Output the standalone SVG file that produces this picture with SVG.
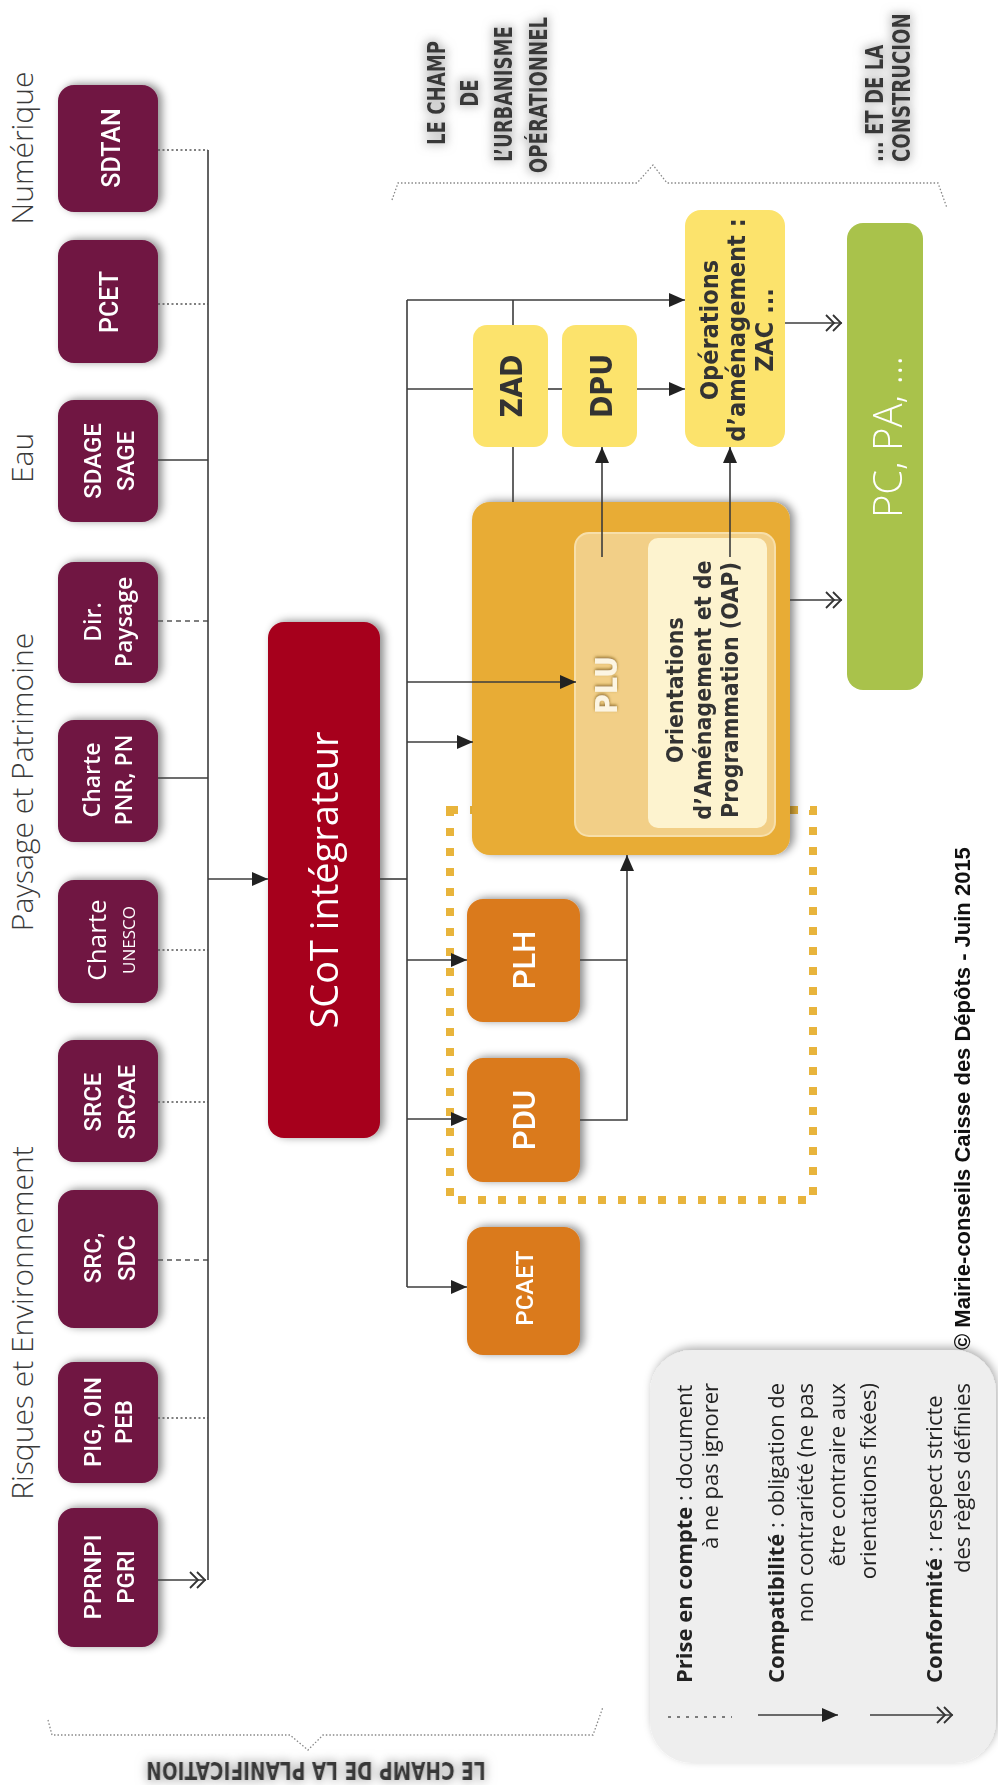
<svg xmlns="http://www.w3.org/2000/svg" width="998" height="1785" viewBox="0 0 998 1785">
<defs>
<style>
.cat{font-family:"Open Sans","DejaVu Sans",sans-serif;font-weight:300;font-size:30px;fill:#3a3a3a;text-anchor:middle}
.mar{fill:#701542}
.lbl{font-family:Roboto,"Open Sans",sans-serif;font-weight:500;fill:#fff;text-anchor:middle}
.lblo{font-family:"Open Sans",sans-serif;font-weight:600;font-size:23px;fill:#fff;text-anchor:middle}
.cond{font-family:"DejaVu Sans Condensed","DejaVu Sans",sans-serif;font-stretch:condensed;font-weight:bold;fill:#333;text-anchor:middle}
.hdr{font-family:"DejaVu Sans Condensed","DejaVu Sans",sans-serif;font-stretch:condensed;font-weight:bold;font-size:24px;fill:#383838}
.ln{fill:none;stroke:#3c3c3c;stroke-width:1.6}
.dot{fill:none;stroke:#555;stroke-width:1.6;stroke-dasharray:2 2.5}
.dash{fill:none;stroke:#555;stroke-width:1.6;stroke-dasharray:5 4}
.brace{fill:none;stroke:#888;stroke-width:1.3;stroke-dasharray:1.5 2}
.leg{font-family:"Open Sans","DejaVu Sans",sans-serif;font-size:22px;fill:#222}
</style>
<filter id="sh" x="-30%" y="-30%" width="160%" height="160%">
<feDropShadow dx="4" dy="-1" stdDeviation="4" flood-color="#000" flood-opacity="0.45"/>
</filter>
<filter id="shl" x="-30%" y="-30%" width="160%" height="160%">
<feDropShadow dx="2" dy="-3" stdDeviation="4" flood-color="#000" flood-opacity="0.3"/>
</filter>
<filter id="glow" x="-20%" y="-40%" width="140%" height="180%">
<feMorphology in="SourceAlpha" operator="dilate" radius="2" result="d"/>
<feGaussianBlur in="d" stdDeviation="5" result="b"/>
<feFlood flood-color="#999" flood-opacity="0.55"/>
<feComposite in2="b" operator="in" result="g"/>
<feMerge><feMergeNode in="g"/><feMergeNode in="SourceGraphic"/></feMerge>
</filter>
<filter id="tsh" x="-30%" y="-30%" width="160%" height="160%">
<feDropShadow dx="1.5" dy="0" stdDeviation="1.5" flood-color="#6b4a10" flood-opacity="0.7"/>
</filter>
<marker id="arr" viewBox="0 0 16 14" refX="16" refY="7" markerWidth="16" markerHeight="14" markerUnits="userSpaceOnUse" orient="auto">
<path d="M0,0 L16,7 L0,14 z" fill="#222"/>
</marker>
<marker id="dbl" viewBox="0 0 20 20" refX="19" refY="10" markerWidth="20" markerHeight="20" markerUnits="userSpaceOnUse" orient="auto">
<path d="M3,2 L11,10 L3,18 M10,2 L18,10 L10,18" fill="none" stroke="#333" stroke-width="1.8"/>
</marker>
</defs>
<rect width="998" height="1785" fill="#fff"/>

<!-- category labels -->
<g id="categories">
<text class="cat" transform="translate(33,148) rotate(-90)">Numérique</text>
<text class="cat" transform="translate(33,458) rotate(-90)">Eau</text>
<text class="cat" transform="translate(33,782) rotate(-90)">Paysage et Patrimoine</text>
<text class="cat" transform="translate(33,1323) rotate(-90)">Risques et Environnement</text>
</g>

<!-- headers & braces -->
<g id="headers" filter="url(#glow)">
<text class="hdr" text-anchor="middle" transform="translate(445,93) rotate(-90) scale(0.84,1)">LE CHAMP</text>
<text class="hdr" text-anchor="middle" transform="translate(478,93) rotate(-90) scale(0.84,1)">DE</text>
<text class="hdr" text-anchor="middle" transform="translate(512,94) rotate(-90) scale(0.84,1)">L’URBANISME</text>
<text class="hdr" text-anchor="middle" transform="translate(547,95) rotate(-90) scale(0.84,1)">OPÉRATIONNEL</text>
<text class="hdr" transform="translate(883,162) rotate(-90) scale(0.84,1)">... ET DE LA</text>
<text class="hdr" transform="translate(910,162) rotate(-90) scale(0.84,1)">CONSTRUCION</text>
<text class="hdr" text-anchor="middle" transform="translate(316,1762) rotate(180) scale(0.86,1)">LE CHAMP DE LA PLANIFICATION</text>
</g>
<g id="braces">
<path class="brace" d="M392,200 L398,183 H637 L653,165 L667,183 H938 L947,208"/>
<path class="brace" d="M48,1720 L52,1735 H290 L308,1750 L323,1735 H593 L603,1707"/>
</g>

<!-- source nodes -->
<g id="n-sdtan" filter="url(#sh)"><rect class="mar" x="58" y="85" width="100" height="127" rx="16"/><text class="lbl" style="font-size:25px" transform="translate(120,148) rotate(-90)">SDTAN</text></g>
<g id="n-pcet" filter="url(#sh)"><rect class="mar" x="58" y="240" width="100" height="123" rx="16"/><text class="lbl" style="font-size:25px" transform="translate(118,302) rotate(-90)">PCET</text></g>
<g id="n-sdage" filter="url(#sh)"><rect class="mar" x="58" y="400" width="100" height="122" rx="16"/><text class="lbl" style="font-size:24px" transform="translate(101,461) rotate(-90)"><tspan x="0" y="0">SDAGE</tspan><tspan x="0" dy="33">SAGE</tspan></text></g>
<g id="n-dirpaysage" filter="url(#sh)"><rect class="mar" x="58" y="562" width="100" height="121" rx="16"/><text class="lblo" transform="translate(101,622) rotate(-90)"><tspan x="0" y="0">Dir.</tspan><tspan x="0" dy="31">Paysage</tspan></text></g>
<g id="n-chartepnr" filter="url(#sh)"><rect class="mar" x="58" y="720" width="100" height="122" rx="16"/><text class="lblo" transform="translate(100,780) rotate(-90)"><tspan x="0" y="0">Charte</tspan><tspan x="0" dy="32">PNR, PN</tspan></text></g>
<g id="n-charteunesco" filter="url(#sh)"><rect class="mar" x="58" y="880" width="100" height="123" rx="16"/><text class="lblo" transform="translate(106,940) rotate(-90)"><tspan x="0" y="0" font-size="26" font-weight="400">Charte</tspan><tspan x="0" dy="29" font-size="17" font-weight="400">UNESCO</tspan></text></g>
<g id="n-srce" filter="url(#sh)"><rect class="mar" x="58" y="1040" width="100" height="122" rx="16"/><text class="lbl" style="font-size:24px" transform="translate(101,1102) rotate(-90)"><tspan x="0" y="0">SRCE</tspan><tspan x="0" dy="34">SRCAE</tspan></text></g>
<g id="n-src" filter="url(#sh)"><rect class="mar" x="58" y="1190" width="100" height="138" rx="16"/><text class="lbl" style="font-size:24px" transform="translate(101,1258) rotate(-90)"><tspan x="0" y="0">SRC,</tspan><tspan x="0" dy="34">SDC</tspan></text></g>
<g id="n-pig" filter="url(#sh)"><rect class="mar" x="58" y="1362" width="100" height="121" rx="16"/><text class="lbl" style="font-size:24px" transform="translate(101,1422) rotate(-90)"><tspan x="0" y="0">PIG, OIN</tspan><tspan x="0" dy="31">PEB</tspan></text></g>
<g id="n-pprnpi" filter="url(#sh)"><rect class="mar" x="58" y="1508" width="100" height="139" rx="16"/><text class="lbl" style="font-size:24px" transform="translate(101,1577) rotate(-90)"><tspan x="0" y="0">PPRNPI</tspan><tspan x="0" dy="33">PGRI</tspan></text></g>

<!-- SCoT -->
<g id="n-scot" filter="url(#sh)"><rect x="268" y="622" width="112" height="516" rx="16" fill="#A6001F"/><text transform="translate(338,880) rotate(-90)" font-family="Open Sans, sans-serif" font-size="38" fill="#fff" text-anchor="middle">SCoT intégrateur</text></g>

<!-- yellow dotted frame -->
<rect id="frame" x="450" y="810" width="363" height="390" fill="none" stroke="#E8B43C" stroke-width="8" stroke-dasharray="8 12"/>

<!-- PLU -->
<g id="n-plu">
<rect x="472" y="502" width="318" height="353" rx="18" fill="#E8AC35" filter="url(#sh)"/>
<rect x="575" y="533" width="200" height="303" rx="14" fill="#F2CF87" stroke="#F7DFAA" stroke-width="2"/>
<text transform="translate(617,685) rotate(-90)" font-family="DejaVu Sans Condensed, DejaVu Sans, sans-serif" font-stretch="condensed" font-weight="bold" font-size="30" fill="#FCF5E3" text-anchor="middle" filter="url(#tsh)">PLU</text>
</g>
<g id="n-oap">
<rect x="648" y="538" width="119" height="290" rx="10" fill="#FDF3CF"/>
<text class="cond" font-size="23" transform="translate(683,690) rotate(-90)"><tspan x="0" y="0">Orientations</tspan><tspan x="0" dy="28">d’Aménagement et de</tspan><tspan x="0" dy="27">Programmation (OAP)</tspan></text>
</g>

<!-- yellow nodes -->
<g id="n-zad"><rect x="473" y="325" width="75" height="122" rx="14" fill="#FCE36C"/><text class="cond" font-size="30" transform="translate(522,386) rotate(-90)">ZAD</text></g>
<g id="n-dpu"><rect x="562" y="325" width="75" height="122" rx="14" fill="#FCE36C"/><text class="cond" font-size="30" transform="translate(612,386) rotate(-90)">DPU</text></g>
<g id="n-ops"><rect x="685" y="210" width="100" height="237" rx="16" fill="#FCE36C"/><text class="cond" font-size="25" transform="translate(718,330) rotate(-90)"><tspan x="0" y="0">Opérations</tspan><tspan x="0" dy="27">d’aménagement :</tspan><tspan x="0" dy="28">ZAC ...</tspan></text></g>

<!-- green -->
<g id="n-pc"><rect x="847" y="223" width="76" height="467" rx="16" fill="#A9C24B"/><text transform="translate(902,437) rotate(-90)" font-family="Open Sans, sans-serif" font-weight="300" font-size="40" fill="#fff" text-anchor="middle">PC, PA, ...</text></g>

<!-- orange -->
<g id="n-plh" filter="url(#sh)"><rect x="467" y="899" width="113" height="123" rx="16" fill="#DA7A1E"/><text class="lbl" style="font-size:31px" transform="translate(535,960) rotate(-90)">PLH</text></g>
<g id="n-pdu" filter="url(#sh)"><rect x="467" y="1058" width="113" height="124" rx="16" fill="#DA7A1E"/><text class="lbl" style="font-size:31px" transform="translate(535,1120) rotate(-90)">PDU</text></g>
<g id="n-pcaet" filter="url(#sh)"><rect x="467" y="1227" width="113" height="128" rx="16" fill="#DA7A1E"/><text class="lbl" style="font-size:24px" transform="translate(533,1288) rotate(-90)">PCAET</text></g>

<!-- connectors -->
<g id="connectors">
<path class="dot" d="M158,150 H208"/>
<path class="dot" d="M158,304 H208"/>
<path class="ln" d="M158,460 H208"/>
<path class="dash" d="M158,621 H208"/>
<path class="ln" d="M158,778 H208"/>
<path class="dot" d="M158,950 H208"/>
<path class="dot" d="M158,1102 H208"/>
<path class="dash" d="M158,1260 H208"/>
<path class="dot" d="M158,1418 H208"/>
<path class="ln" d="M158,1580 H206" marker-end="url(#dbl)"/>
<path class="ln" d="M208,150 V1580"/>
<path class="ln" d="M208,879 H268" marker-end="url(#arr)"/>
<path class="ln" d="M380,879 H407"/>
<path class="ln" d="M407,300 V1287"/>
<path class="ln" d="M407,300 H685" marker-end="url(#arr)"/>
<path class="ln" d="M513,300 V325"/>
<path class="ln" d="M407,389 H473"/>
<path class="ln" d="M548,389 H562"/>
<path class="ln" d="M637,389 H685" marker-end="url(#arr)"/>
<path class="ln" d="M513,447 V502"/>
<path class="ln" d="M602,557 V447" marker-end="url(#arr)"/>
<path class="ln" d="M730,557 V447" marker-end="url(#arr)"/>
<path class="ln" d="M407,682 H576" marker-end="url(#arr)"/>
<path class="ln" d="M407,742 H473" marker-end="url(#arr)"/>
<path class="ln" d="M407,960 H467" marker-end="url(#arr)"/>
<path class="ln" d="M407,1119 H467" marker-end="url(#arr)"/>
<path class="ln" d="M407,1287 H467" marker-end="url(#arr)"/>
<path class="ln" d="M580,960 H627"/>
<path class="ln" d="M580,1120 H627 V855" marker-end="url(#arr)"/>
<path class="ln" d="M785,323 H842" marker-end="url(#dbl)"/>
<path class="ln" d="M790,600 H842" marker-end="url(#dbl)"/>
</g>

<!-- legend -->
<g id="legend">
<rect x="650" y="1350" width="346" height="413" rx="42" fill="#EEEEEE" filter="url(#shl)"/>
<path d="M668,1717 H732" fill="none" stroke="#555" stroke-width="1.6" stroke-dasharray="3 6"/>
<path class="ln" d="M758,1715 H838" marker-end="url(#arr)"/>
<path class="ln" d="M870,1715 H953" marker-end="url(#dbl)"/>
<text class="leg" transform="translate(692,1683) rotate(-90)"><tspan font-weight="bold">Prise en compte</tspan> : document</text>
<text class="leg" text-anchor="end" transform="translate(718,1383) rotate(-90)">à ne pas ignorer</text>
<text class="leg" transform="translate(784,1683) rotate(-90)"><tspan font-weight="bold">Compatibilité</tspan> : obligation de</text>
<text class="leg" text-anchor="end" transform="translate(813,1383) rotate(-90)">non contrariété (ne pas</text>
<text class="leg" text-anchor="end" transform="translate(845,1383) rotate(-90)">être contraire aux</text>
<text class="leg" text-anchor="end" transform="translate(876,1383) rotate(-90)">orientations fixées)</text>
<text class="leg" transform="translate(942,1683) rotate(-90)"><tspan font-weight="bold">Conformité</tspan> : respect stricte</text>
<text class="leg" text-anchor="end" transform="translate(970,1383) rotate(-90)">des règles définies</text>
</g>

<text id="copyright" transform="translate(970,1350) rotate(-90)" font-family="Liberation Sans, Arial, sans-serif" font-weight="bold" font-size="22" fill="#111">© Mairie-conseils Caisse des Dépôts - Juin 2015</text>
</svg>
